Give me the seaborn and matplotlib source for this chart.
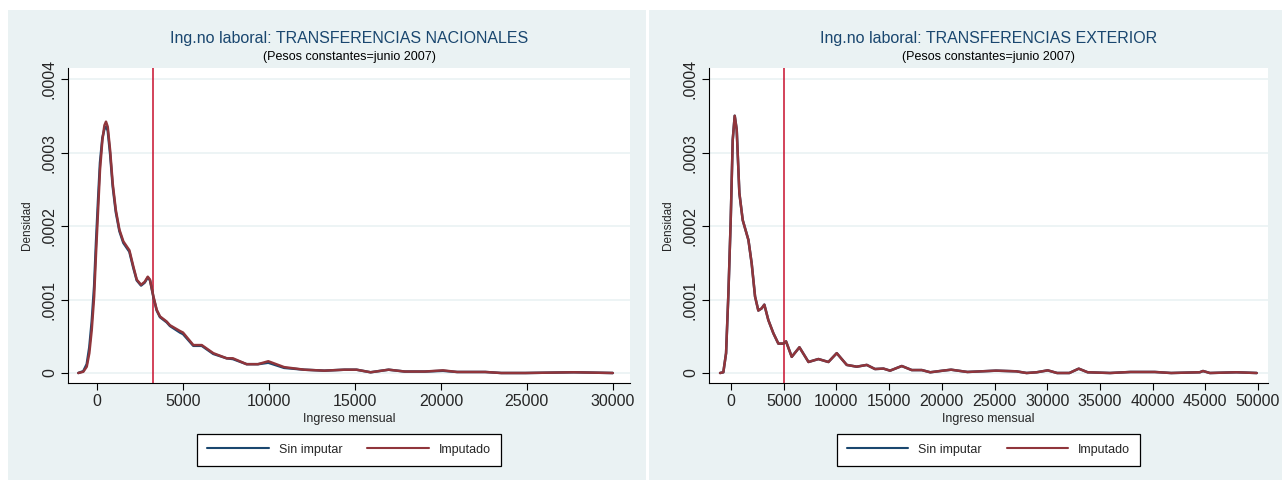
import numpy as np
import pandas as pd
import matplotlib
matplotlib.use("Agg")
import matplotlib.pyplot as plt
from matplotlib.patches import Rectangle
from matplotlib.lines import Line2D
import seaborn as sns

#### Data

# panel 1: transferencias nacionales
nac_x = [-1090, -800, -600, -450, -310, -170, -60, 60, 170, 310, 430, 520, 620,
         760, 910, 1090, 1300, 1530, 1880, 2110, 2310, 2560, 2770, 2950, 3080,
         3280, 3470, 3660, 4050, 4240, 4830, 5000, 5600, 6090, 6760, 7540, 7900,
         8700, 9360, 9960, 10880, 12050, 13220, 14390, 15090, 15910, 16960,
         17900, 19070, 20120, 20940, 22580, 23510, 24920, 27730, 30000]
nac_imputado = [0, 0.0000017, 0.0000086, 0.000027, 0.0000585, 0.000104,
                0.000163, 0.000222, 0.000276, 0.000317, 0.000337, 0.000342,
                0.000335, 0.000303, 0.000258, 0.000222, 0.000195, 0.000179,
                0.000167, 0.000145, 0.000127, 0.000120, 0.000124, 0.000131,
                0.000127, 0.000104, 0.000086, 0.000077, 0.000070, 0.000065,
                0.000057, 0.000055, 0.000038, 0.000038, 0.000027, 0.000020,
                0.000020, 0.000012, 0.000012, 0.000016, 0.000008, 0.0000045,
                0.0000032, 0.0000045, 0.0000045, 0.000001, 0.0000045, 0.000002,
                0.000002, 0.0000036, 0.0000014, 0.0000014, 0, 0, 0.000001, 0]
nac_sin_imputar = [0, 0.0000025, 0.000012, 0.000035, 0.000070, 0.000118,
                   0.000178, 0.000236, 0.000286, 0.000320, 0.000332, 0.000335,
                   0.000330, 0.000298, 0.000254, 0.000219, 0.000193, 0.000177,
                   0.000165, 0.000143, 0.000126, 0.000119, 0.000123, 0.000130,
                   0.000126, 0.000103, 0.000085, 0.000076, 0.000069, 0.000064,
                   0.000055, 0.000053, 0.000037, 0.000037, 0.000026, 0.000020,
                   0.000019, 0.000012, 0.000012, 0.000014, 0.000007, 0.0000045,
                   0.0000032, 0.0000045, 0.0000045, 0.000001, 0.0000045, 0.000002,
                   0.000002, 0.0000030, 0.0000014, 0.0000014, 0, 0, 0.000001, 0]
nac_linea = 3250

# panel 2: transferencias exterior
ext_x = [-1040, -730, -470, -250, -30, 160, 350, 540, 790, 1110, 1650, 1960, 2280,
         2590, 2910, 3160, 3540, 4020, 4490, 4970, 5220, 5760, 6490, 7350, 8290,
         9240, 10030, 10980, 11930, 12880, 13660, 14460, 15090, 16200, 17150,
         18100, 18900, 20110, 20880, 22430, 25140, 27070, 28040, 29000, 30050,
         30940, 32100, 32990, 33840, 35960, 37900, 40210, 41760, 44470, 44780,
         45440, 47950, 49880]
ext_imputado = [0, 0.000001, 0.000027, 0.000108, 0.000208, 0.000317, 0.000350,
                0.000331, 0.000245, 0.000208, 0.000181, 0.000149, 0.000104,
                0.000085, 0.000088, 0.000093, 0.000072, 0.000054, 0.000040,
                0.000040, 0.000043, 0.000022, 0.000035, 0.000015, 0.000019,
                0.000015, 0.000027, 0.000011, 0.0000086, 0.000011, 0.0000054,
                0.000006, 0.0000032, 0.0000095, 0.000004, 0.000004, 0.000001,
                0.0000032, 0.0000045, 0.0000014, 0.0000032, 0.0000023, 0,
                0.000001, 0.0000036, 0, 0, 0.0000059, 0.000001, 0, 0.0000014,
                0.0000014, 0, 0.000001, 0.0000027, 0, 0.000001, 0]
ext_sin_imputar = ext_imputado
ext_linea = 5000

titulos = ["Ing.no laboral: TRANSFERENCIAS NACIONALES",
           "Ing.no laboral: TRANSFERENCIAS EXTERIOR"]
subtitulo = "(Pesos constantes=junio 2007)"
series = ["Sin imputar", "Imputado"]
y_ticks = [0, 0.0001, 0.0002, 0.0003, 0.0004]
y_ticklabels = ["0", ".0001", ".0002", ".0003", ".0004"]
x_ticks_nac = [0, 5000, 10000, 15000, 20000, 25000, 30000]
x_ticks_ext = [0, 5000, 10000, 15000, 20000, 25000, 30000, 35000, 40000, 45000, 50000]

#### Style

sns.set_theme(style="white")
plt.rcParams['font.family'] = ['Liberation Sans', 'DejaVu Sans']

BG = "#eaf2f3"
NAVY = "#1a476f"
colores = {"Sin imputar": "#1a476f", "Imputado": "#90353b"}
VLINE = "#c8102e"

fig = plt.figure(figsize=(12.82, 4.82), dpi=100, facecolor="white")
W, H = 1282, 482

def fx(px):
    return px / W

def fy(py):
    return 1 - py / H

# panel backgrounds (behind the axes)
for x0, x1 in [(8, 646), (649, 1282)]:
    fig.patches.append(Rectangle((fx(x0), fy(480)), fx(x1 - x0), (480 - 10) / H,
                                 transform=fig.transFigure, facecolor=BG,
                                 edgecolor="none", zorder=-5))

paneles = [
    dict(x=nac_x, sin=nac_sin_imputar, imp=nac_imputado, linea=nac_linea,
         xticks=x_ticks_nac, xlim=(-1690, 31000), left=68, right=630, ylab=33),
    dict(x=ext_x, sin=ext_sin_imputar, imp=ext_imputado, linea=ext_linea,
         xticks=x_ticks_ext, xlim=(-2090, 50950), left=709, right=1268, ylab=674),
]

for i, p in enumerate(paneles):
    ax = fig.add_axes([fx(p["left"]), fy(383), fx(p["right"] - p["left"]), (383 - 68) / H])
    ax.set_facecolor("white")

    df = pd.concat([
        pd.DataFrame({"ingreso": p["x"], "densidad": p["sin"], "serie": "Sin imputar"}),
        pd.DataFrame({"ingreso": p["x"], "densidad": p["imp"], "serie": "Imputado"}),
    ])

    ax.axvline(p["linea"], color=VLINE, lw=1.1, zorder=1)
    sns.lineplot(data=df, x="ingreso", y="densidad", hue="serie",
                 palette=colores, hue_order=series, lw=1.8, legend=False,
                 ax=ax, zorder=3)

    ax.set_xlim(*p["xlim"])
    ax.set_ylim(-0.0000136, 0.000415)
    ax.set_xticks(p["xticks"])
    ax.set_xticklabels([str(t) for t in p["xticks"]], fontsize=11.5)
    ax.set_yticks(y_ticks)
    ax.set_yticklabels(y_ticklabels, fontsize=11.5, rotation=90, va="center")
    ax.yaxis.grid(True, color=BG, lw=1.2)
    ax.xaxis.grid(False)
    ax.tick_params(axis="both", direction="out", length=5, width=0.8,
                   color="black", pad=3, left=True, bottom=True)
    for s in ["top", "right"]:
        ax.spines[s].set_visible(False)
    for s in ["left", "bottom"]:
        ax.spines[s].set_color("black")
        ax.spines[s].set_linewidth(0.8)

    ax.set_xlabel("Ingreso mensual", fontsize=9, labelpad=3)
    ax.set_ylabel("Densidad", fontsize=8.5)
    ax.yaxis.set_label_coords((p["ylab"] - p["left"]) / (p["right"] - p["left"]), 0.5)

    cx = (p["left"] + p["right"]) / 2
    fig.text(fx(cx), fy(39), titulos[i], color=NAVY, fontsize=11.5,
             ha="center", va="center")
    fig.text(fx(cx), fy(57), subtitulo, color="black", fontsize=9,
             ha="center", va="center")

    handles = [Line2D([0], [0], color=colores[s], lw=1.5) for s in series]
    leg = fig.legend(handles, series, loc="center",
                     bbox_to_anchor=(fx(cx), fy(449.5)), ncol=2, fontsize=9,
                     frameon=True, fancybox=False, framealpha=1,
                     handlelength=4.9, columnspacing=2.0, handletextpad=0.8,
                     borderpad=0.8)
    leg.get_frame().set_edgecolor("black")
    leg.get_frame().set_linewidth(0.9)
    leg.get_frame().set_facecolor("white")

fig.savefig("out.png", dpi=100, facecolor="white")
